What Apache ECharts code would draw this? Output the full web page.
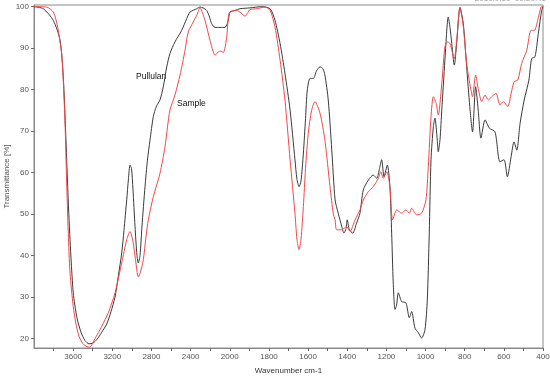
<!DOCTYPE html>
<html>
<head>
<meta charset="utf-8">
<script src="https://cdn.jsdelivr.net/npm/echarts@6/dist/echarts.min.js"></script>
<style>html,body{margin:0;padding:0;background:#fff}#c{width:550px;height:378px}</style>
</head>
<body>
<div id="c"></div>
<script>
// Wavenumber (cm-1) tick labels shown on the x axis
var xTickLabels = [3600, 3200, 2800, 2400, 2000, 1800, 1600, 1400, 1200, 1000, 800, 600, 400];
var yTickLabels = [20, 30, 40, 50, 60, 70, 80, 90, 100];

// Pullulan spectrum: wavenumber, transmittance (%)
var pullulanWave = [4000,3905,3803,3734,3701,3676,3656,3632,3599,3561,3520,3479,3438,3397,3356,3308,3257,3213,3172,3139,3104,3081,3053,3035,3019,3004,2989,2968,2948,2934,2917,2897,2866,2841,2815,2781,2749,2713,2679,2644,2611,2560,2491,2440,2406,2338,2304,2273,2236,2207,2185,2151,2100,2049,2028,2015,1999,1973,1948,1897,1837,1794,1769,1743,1718,1692,1667,1657,1646,1636,1624,1613,1604,1590,1573,1557,1539,1524,1514,1497,1479,1462,1446,1428,1417,1406,1400,1389,1372,1352,1335,1318,1292,1267,1249,1235,1224,1212,1195,1182,1173,1165,1156,1148,1139,1122,1100,1083,1071,1054,1037,1020,1003,991,981,972,960,952,940,935,926,917,901,884,875,866,853,841,824,807,790,774,760,744,731,717,696,674,645,620,599,582,563,548,534,517,496,472,458,441,424,407,400];
var pullulanT = [100,99.5,96.7,91.9,83.1,69.5,56.6,43.8,31,25,21.5,19.5,18.7,18.9,19.8,21.5,23.5,26.5,30,35,40.6,46,53.4,58.5,61.8,61,56,47,40,38.2,40,47,56.6,63,67.8,73.5,76,77.5,80.7,85.5,88.7,91.5,94.3,97.1,98.7,99.5,99.9,99.7,99.1,97.5,95.9,95,95,95,95.8,96.7,98.7,99.1,99.5,99.7,100,99.5,96.7,91.1,83.9,75.1,63.1,58.5,56.6,58,64.7,73,79.9,82.7,82.7,84.5,85.5,85,83.5,77.5,65.5,53.4,50.2,47,45.4,46.5,48.6,46.2,45.4,47.8,50.2,55.8,58.2,59.4,58.6,61,63.1,59,61.8,56.6,45.4,33.4,27,28,31,28.9,28.6,25,26.5,22.5,21.4,20.1,22.1,29.3,45.4,63.1,71.1,73.1,67.8,65,68,75.1,87.1,97.5,95,91.1,85.9,91.1,99.8,95.9,85.5,75.9,69.8,80.7,75.1,68.3,72.7,70.7,69.8,62.6,63.1,59,63.8,67.4,65.4,71.9,77.5,82.3,87.5,87.9,93.5,99.1,100];

// Sample spectrum: wavenumber, transmittance (%)
var sampleWave = [4000,3870,3803,3775,3752,3734,3717,3701,3683,3666,3650,3632,3599,3571,3540,3499,3459,3433,3413,3387,3343,3308,3241,3172,3104,3053,3019,2986,2963,2934,2912,2883,2856,2832,2781,2713,2662,2636,2611,2560,2508,2457,2424,2373,2335,2304,2279,2253,2202,2171,2151,2117,2090,2066,2031,2015,1999,1965,1943,1922,1907,1897,1862,1820,1794,1769,1743,1718,1692,1667,1657,1646,1636,1624,1613,1599,1582,1565,1539,1514,1488,1471,1462,1454,1428,1403,1386,1360,1335,1318,1292,1267,1241,1229,1216,1198,1182,1168,1147,1122,1100,1083,1071,1045,1020,998,986,972,960,946,935,917,901,887,875,853,841,824,807,790,774,760,744,731,713,696,679,662,640,620,603,580,563,547,529,509,483,461,444,427,410,400];
var sampleT = [100,99.9,98.7,96.8,94.3,91.5,88.7,82.3,71.9,57.5,45.4,35.8,27.7,23.5,20.5,18.7,18,17.9,18.3,19.5,21.4,22.9,26.2,31,38.2,43.8,45.8,43,39,34.8,36,39,44.5,48.6,54.2,59.8,66.2,71,75.1,78.7,83.5,89.5,93.9,96.3,98,99.8,98.5,96.7,91.9,89.3,88.3,89.1,89.3,88.9,92.7,97.5,98.7,99.1,98.5,97.7,98.6,99.3,99.5,99.9,99.1,95.1,87.1,77.5,63.1,50.2,44,41.4,44,51.8,61,69.5,75,77.1,74.3,67.8,56.6,50,48.6,46.2,46.2,47,45.8,48.6,51,53.4,55.4,56.6,58.6,60.2,58.6,60.2,56.6,48.6,51,50.2,51,50.2,51.4,49.8,50.2,53.4,61.4,73.5,78.3,76.7,73.9,81.5,90.3,91.5,91.1,87.5,91.9,99.8,95.1,86.3,81.5,78.3,83.5,80.3,77.1,78.7,77.5,78.3,79.1,76.3,77.1,75.9,79.1,81.9,82.3,86.3,89.5,94.3,94.3,96.7,99.9,100];

// The instrument axis is compressed by 2x above 2000 cm-1
function toAxis(w) { return w >= 2000 ? (4000 - w) / 2 : 1000 + (2000 - w); }
function fromAxis(u) { return u <= 1000 ? 4000 - 2 * u : 2000 - (u - 1000); }

function build(ws, ts) {
  var out = [];
  for (var i = 0; i < ws.length; i++) out.push([toAxis(ws[i]), ts[i]]);
  return out;
}

var xLabelPos = xTickLabels.map(toAxis);
var xTickPos = [];
for (var u = 100; u <= 2600; u += 100) xTickPos.push(u);

var chart = echarts.init(document.getElementById('c'), null, {renderer: 'canvas'});
var FONT = 'Liberation Sans, Arial, sans-serif';
chart.setOption({
  animation: false,
  backgroundColor: '#fff',
  grid: {left: 34, right: 7, top: 5, bottom: 30, show: true, borderColor: '#8a8a8a', borderWidth: 1,
    containLabel: false, outerBoundsMode: 'none'},
  xAxis: {
    type: 'value', min: 0, max: 2600,
    name: 'Wavenumber cm-1', nameLocation: 'middle', nameGap: 19, nameMoveOverlap: false,
    nameTextStyle: {fontFamily: FONT, fontSize: 8, color: '#333'},
    axisLine: {show: true, lineStyle: {color: '#8a8a8a', width: 1}},
    axisTick: {show: true, length: 3, lineStyle: {color: '#666'}, customValues: xTickPos},
    axisLabel: {fontFamily: FONT, fontSize: 8, color: '#555', margin: 5, customValues: xLabelPos,
      formatter: function (v) { return String(Math.round(fromAxis(v))); }},
    splitLine: {show: false}
  },
  yAxis: {
    type: 'value', min: 17.7, max: 100.4,
    name: 'Transmittance [%]', nameLocation: 'middle', nameGap: 23, nameRotate: 90, nameMoveOverlap: false,
    nameTextStyle: {fontFamily: FONT, fontSize: 8, color: '#555'},
    axisLine: {show: true, lineStyle: {color: '#8a8a8a', width: 1}},
    axisTick: {show: true, length: 3, lineStyle: {color: '#666'}, customValues: yTickLabels},
    axisLabel: {fontFamily: FONT, fontSize: 8, color: '#555', margin: 5, customValues: yTickLabels},
    splitLine: {show: false}
  },
  graphic: [
    {type: 'text', left: 136, top: 72, style: {text: 'Pullulan', font: '8.5px ' + FONT, fill: '#111'}},
    {type: 'text', left: 177, top: 99, style: {text: 'Sample', font: '8.5px ' + FONT, fill: '#111'}},
    {type: 'text', right: 4, top: -5, style: {text: '2010.9.10  09:20:41', font: '8px ' + FONT, fill: '#999'}}
  ],
  series: [
    {name: 'Pullulan', type: 'line', data: build(pullulanWave, pullulanT), showSymbol: false, smooth: 0.25,
      lineStyle: {color: '#3a3a3a', width: 1}, z: 2},
    {name: 'Sample', type: 'line', data: build(sampleWave, sampleT), showSymbol: false, smooth: 0.25,
      lineStyle: {color: '#f24848', width: 1}, z: 3}
  ]
});
</script>
</body>
</html>
